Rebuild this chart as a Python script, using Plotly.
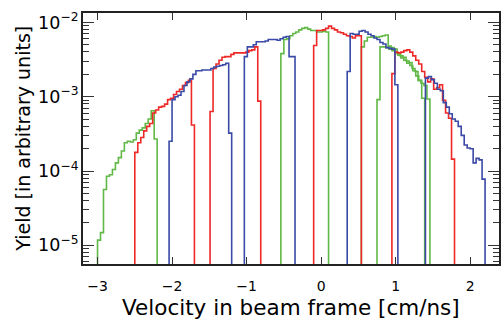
import numpy as np
import plotly.graph_objects as go

# ---- data (log10 of yield per bin) ----
BIN = 0.04  # cm/ns

red_segments = [
    (-2.50, [-3.75, -3.62, -3.55, -3.46, -3.40, -3.36, -3.22, -3.18, -3.14, -3.13,
             -3.10, -3.04, -3.02, -2.97, -2.93, -2.90, -2.85, -2.81, -2.78, -3.38]),
    (-1.49, [-3.20, -2.62, -2.56, -2.51, -2.47, -2.46, -2.46, -2.43, -2.41, -2.41,
             -2.41, -2.41, -2.40, -2.38, -2.37, -2.33, -3.06]),
    (-0.10, [-2.31, -2.11, -2.11, -2.10, -2.08, -2.05, -2.08, -2.10, -2.13, -2.14,
             -2.16, -2.18, -2.19, -2.21, -2.18, -2.18]),
    (0.95, [-2.69, -2.40, -2.41, -2.40, -2.38, -2.37, -2.40, -2.45, -2.51, -2.56,
            -2.66, -2.74, -2.80, -2.76, -2.90, -2.88, -2.84, -3.05, -3.22, -3.29, -3.84]),
]

green_segments = [
    (-3.00, [-4.93, -4.83, -4.25, -4.07, -4.05, -3.98, -3.89, -3.82, -3.73, -3.62,
             -3.60, -3.61, -3.58, -3.49, -3.45, -3.42, -3.36, -3.30, -3.19, -3.57]),
    (-0.54, [-2.42, -2.23, -2.22, -2.18, -2.15, -2.13, -2.10, -2.08, -2.07, -2.09,
             -2.11, -2.11, -2.13, -2.13, -2.12, -2.13]),
    (0.54, [-2.33, -2.25, -2.20, -2.20, -2.19, -2.20, -2.19, -2.18, -2.17, -2.32,
            -2.34, -2.36, -2.42, -2.45, -2.47, -2.52, -2.54, -2.62, -2.66, -2.78,
            -2.82, -2.85, -3.03]),
    (0.75, [-3.04, -2.33, -2.33, -2.34, -2.36, -2.38, -2.41, -2.44, -2.48, -2.51,
            -2.55, -2.58, -2.65, -2.72, -2.78, -3.02]),
]

blue_segments = [
    (-2.04, [-3.60, -3.04, -3.00, -2.98, -2.93, -2.85, -2.80, -2.76, -2.70, -2.65,
             -2.65, -2.64, -2.64, -2.64, -2.62, -2.60, -2.59, -2.58, -2.57, -2.55, -3.49]),
    (-1.03, [-2.46, -2.33, -2.33, -2.30, -2.26, -2.26, -2.26, -2.25, -2.23, -2.23,
             -2.23, -2.24, -2.22, -2.20, -2.19, -2.46, -2.46]),
    (0.35, [-2.66, -2.15, -2.16, -2.16, -2.12, -2.11, -2.13, -2.16, -2.18, -2.21,
            -2.23, -2.27, -2.29, -2.34, -2.35, -2.36, -2.84]),
    (1.40, [-2.75, -2.73, -2.77, -2.82, -2.90, -2.92, -3.08, -3.14, -3.23, -3.30,
            -3.33, -3.40, -3.52, -3.65, -3.69, -3.70, -3.89, -3.83, -3.85, -4.11]),
]

x_tick_vals = [-3, -2, -1, 0, 1, 2]
x_range = [-3.195, 2.387]
y_range_log = [-5.2517, -1.8735]

x_title = "Velocity in beam frame [cm/ns]"
y_title = "Yield [in arbitrary units]"

RED, GREEN, BLUE = "#ee2727", "#62b846", "#3a4aa6"
FLOOR = 1e-8


def build(segments):
    xs, ys = [], []
    for start, logs in segments:
        vals = 10.0 ** np.array(logs)
        edges = start + BIN * np.arange(len(vals) + 1)
        xs += [edges[0]] + list(edges[:-1]) + [edges[-1], edges[-1], None]
        ys += [FLOOR] + list(vals) + [vals[-1], FLOOR, None]
    return xs, ys


fig = go.Figure()
for segs, col in [(green_segments, GREEN), (red_segments, RED), (blue_segments, BLUE)]:
    xs, ys = build(segs)
    fig.add_trace(go.Scatter(x=xs, y=ys, mode="lines", line=dict(color=col, width=1.6, shape="hv"),
                             hoverinfo="skip", showlegend=False))

font = "DejaVu Sans, Verdana, sans-serif"
fig.update_layout(
    width=502, height=321,
    margin=dict(l=83, r=1, t=13, b=57),
    paper_bgcolor="white", plot_bgcolor="white",
    font=dict(family=font, color="black"),
    showlegend=False,
)
fig.update_xaxes(
    range=x_range, tickmode="array", tickvals=x_tick_vals,
    ticks="inside", ticklen=7, tickwidth=1.2, tickcolor="#333",
    showline=True, linecolor="#222", linewidth=1.5, mirror="allticks",
    showgrid=False, zeroline=False, tickfont=dict(size=14), ticklabelstandoff=8,
)
fig.update_yaxes(
    type="log", range=y_range_log, tickmode="linear", tick0=0, dtick=1,
    exponentformat="power", showexponent="all",
    ticks="inside", ticklen=11, tickwidth=1.2, tickcolor="#333",
    minor=dict(ticks="inside", ticklen=6, tickwidth=1.0, tickcolor="#333", dtick="D1", showgrid=False),
    showline=True, linecolor="#222", linewidth=1.5, mirror="allticks",
    showgrid=False, zeroline=False, tickfont=dict(size=14),
)
fig.add_annotation(text=x_title, xref="paper", yref="paper", x=0.5, y=-0.172,
                   xanchor="center", yanchor="middle", showarrow=False,
                   font=dict(size=21.5, family=font))
fig.add_annotation(text=y_title, xref="paper", yref="paper", x=-0.146, y=0.5,
                   xanchor="center", yanchor="middle", textangle=-90, showarrow=False,
                   font=dict(size=19, family=font))

fig.write_html("out.html")
